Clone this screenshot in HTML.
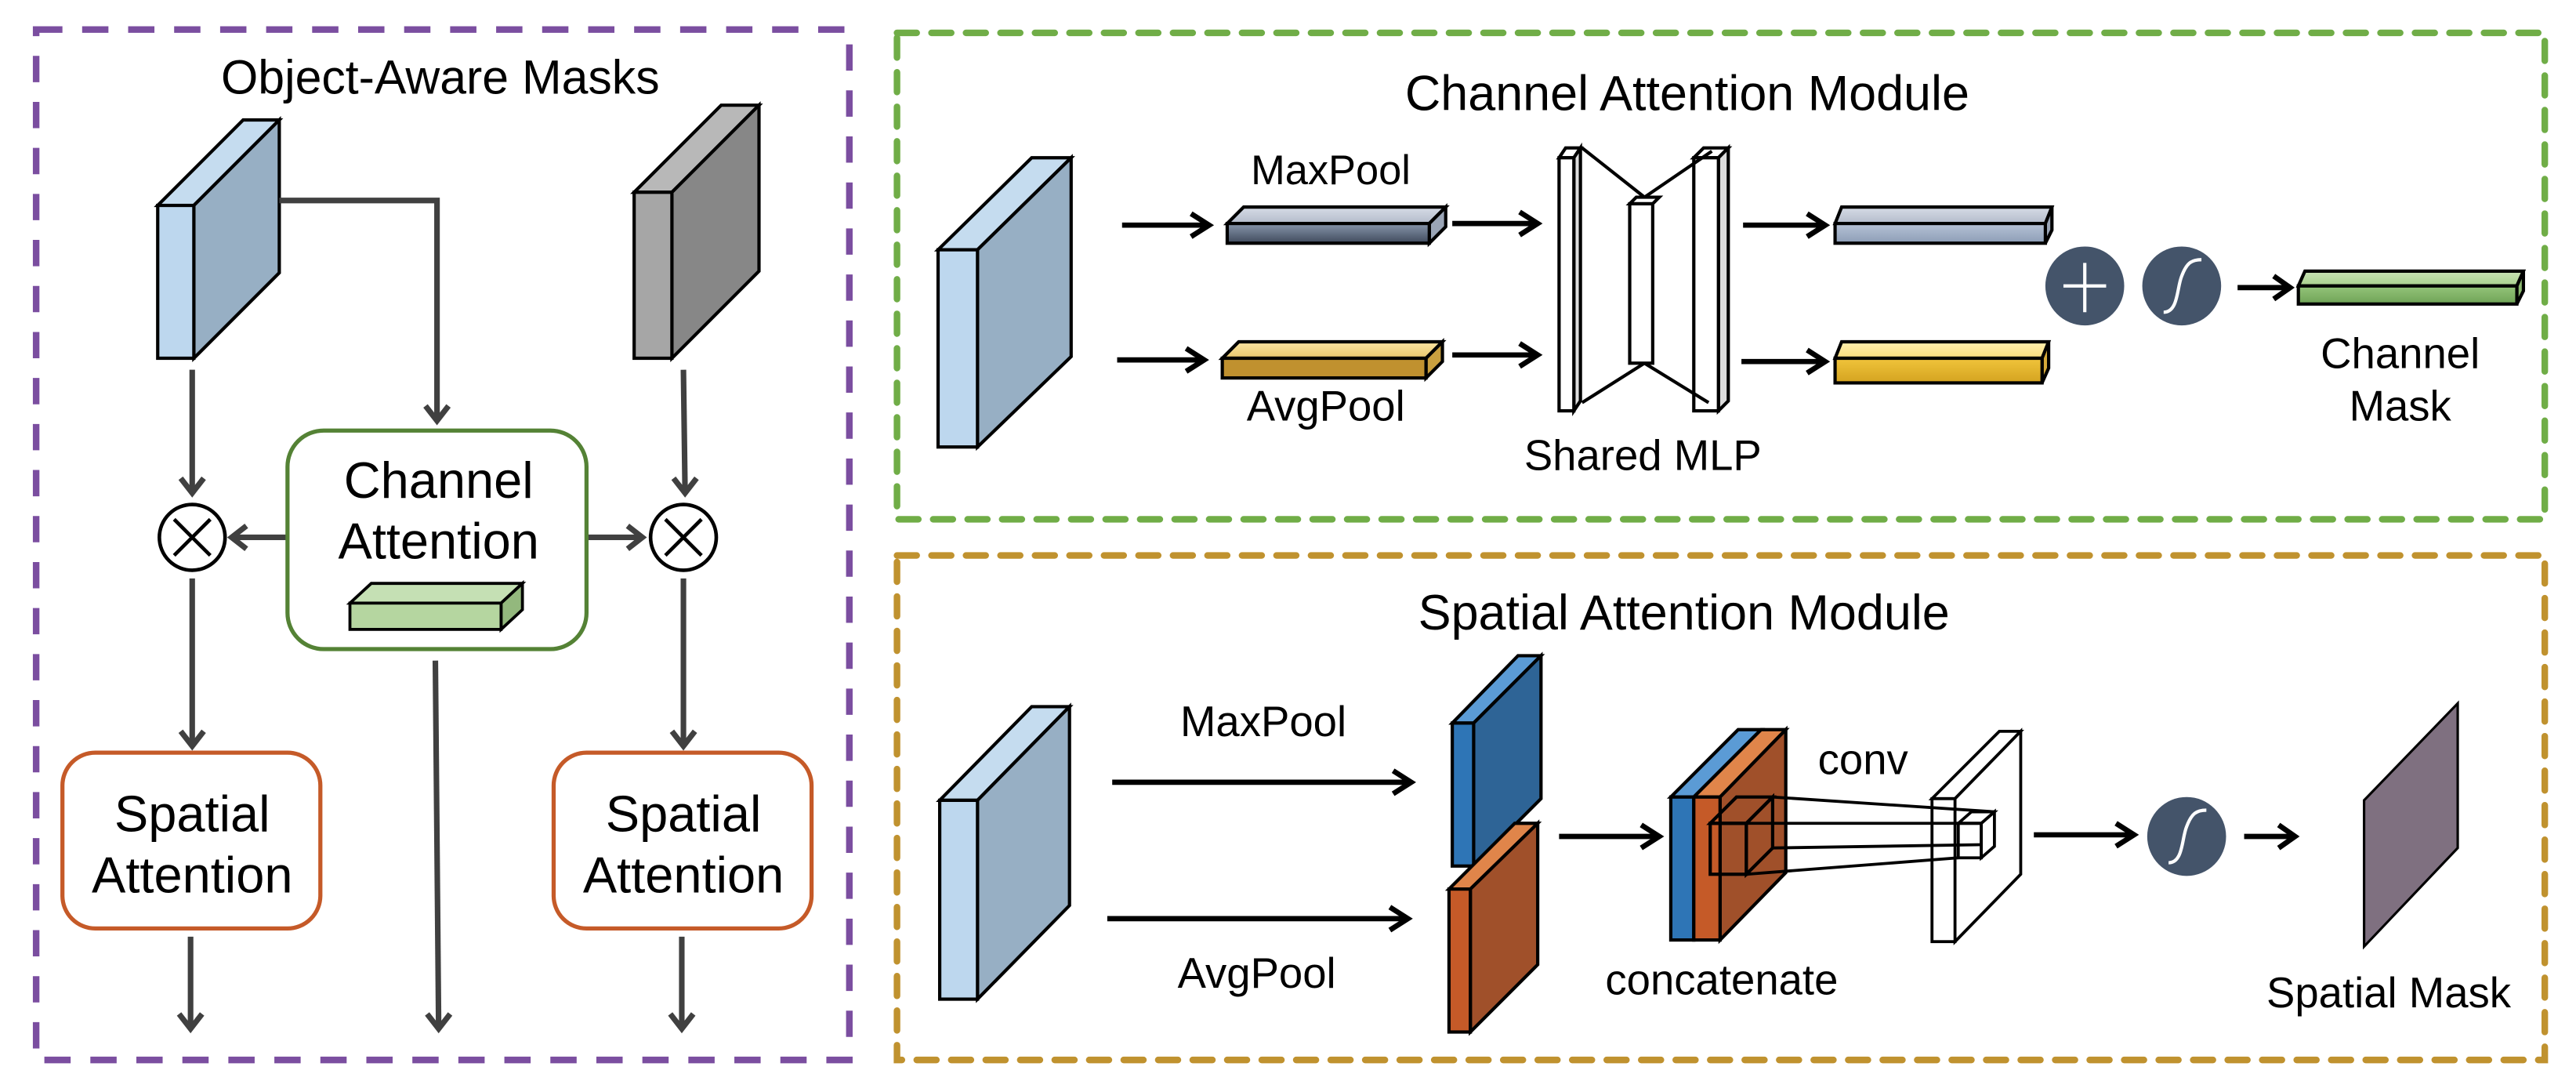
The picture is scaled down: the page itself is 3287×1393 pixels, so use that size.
<!DOCTYPE html>
<html><head><meta charset="utf-8"><style>
html,body{margin:0;padding:0;background:#fff}
svg{display:block}
text{font-family:"Liberation Sans",Arial,sans-serif;fill:#000}
</style></head><body>
<svg width="3287" height="1393" viewBox="0 0 1568 664.5" preserveAspectRatio="none" xmlns="http://www.w3.org/2000/svg">
<rect width="1568" height="665" fill="#fff"/>
<rect x="22" y="18" width="495" height="627" fill="none" stroke="#7b4ea0" stroke-width="4" stroke-dasharray="16,12"/>
<rect x="546" y="20" width="1003" height="296" fill="none" stroke="#70ad47" stroke-width="4" stroke-dasharray="12,9" stroke-linecap="round"/>
<rect x="546" y="338" width="1003" height="307" fill="none" stroke="#c0922f" stroke-width="4" stroke-dasharray="12,9" stroke-linecap="round"/>

<!-- LEFT PANEL -->
<text x="268" y="57" font-size="29" text-anchor="middle">Object-Aware Masks</text>
<g stroke="#000" stroke-width="2" stroke-linejoin="miter">
<polygon points="96,125 148,73 170,73 118,125" fill="#c5dcef"/>
<polygon points="118,125 170,73 170,166 118,218" fill="#97afc4"/>
<rect x="96" y="125" width="22" height="93" fill="#bdd7ee"/>
<polygon points="386,117 439,64 462,64 409,117" fill="#b8b8b8"/>
<polygon points="409,117 462,64 462,165 409,218" fill="#878787"/>
<rect x="386" y="117" width="23" height="101" fill="#a6a6a6"/>
</g>
<g stroke="#404040" stroke-width="3.4" fill="none">
<polyline points="170,122 266,122 266,256"/>
<polyline points="259,247 266,256 273,247"/>
<line x1="117" y1="225" x2="117" y2="300"/><polyline points="110,291 117,300 124,291"/>
<line x1="416" y1="225" x2="417" y2="300"/><polyline points="410,291 417,300 424,291"/>
<line x1="175" y1="327" x2="141" y2="327"/><polyline points="150,320 141,327 150,334"/>
<line x1="357" y1="327" x2="391" y2="327"/><polyline points="382,320 391,327 382,334"/>
<line x1="117" y1="352" x2="117" y2="454"/><polyline points="110,445 117,454 124,445"/>
<line x1="416" y1="352" x2="416" y2="454"/><polyline points="409,445 416,454 423,445"/>
<line x1="116" y1="570" x2="116" y2="626"/><polyline points="109,617 116,626 123,617"/>
<line x1="415" y1="570" x2="415" y2="626"/><polyline points="408,617 415,626 422,617"/>
<line x1="265" y1="402" x2="267" y2="626"/><polyline points="260,617 267,626 274,617"/>
</g>
<g stroke="#000" stroke-width="2.2" fill="#fff">
<circle cx="117" cy="327" r="20"/><circle cx="416" cy="327" r="20"/>
</g>
<g stroke="#000" stroke-width="2.2">
<line x1="106" y1="316" x2="128" y2="338"/><line x1="128" y1="316" x2="106" y2="338"/>
<line x1="405" y1="316" x2="427" y2="338"/><line x1="427" y1="316" x2="405" y2="338"/>
</g>
<rect x="175" y="262" width="182" height="133" rx="22" fill="#fff" stroke="#548235" stroke-width="2.5"/>
<text x="267" y="303" font-size="31" text-anchor="middle">Channel</text>
<text x="267" y="340" font-size="31" text-anchor="middle">Attention</text>
<g stroke="#000" stroke-width="1.8">
<polygon points="213,367 226,355 318,355 305,367" fill="#c5e0b4"/>
<polygon points="305,367 318,355 318,371 305,383" fill="#93b87d"/>
<rect x="213" y="367" width="92" height="16" fill="#b5d6a0"/>
</g>
<rect x="38" y="458" width="157" height="107" rx="20" fill="#fff" stroke="#c55a28" stroke-width="2.5"/>
<text x="117" y="506" font-size="31" text-anchor="middle">Spatial</text>
<text x="117" y="543" font-size="31" text-anchor="middle">Attention</text>
<rect x="337" y="458" width="157" height="107" rx="20" fill="#fff" stroke="#c55a28" stroke-width="2.5"/>
<text x="416" y="506" font-size="31" text-anchor="middle">Spatial</text>
<text x="416" y="543" font-size="31" text-anchor="middle">Attention</text>

<!-- CHANNEL ATTENTION MODULE -->
<defs>
<linearGradient id="gmaxT" x1="0" y1="0" x2="0" y2="1"><stop offset="0" stop-color="#d6dce6"/><stop offset="1" stop-color="#b4bccb"/></linearGradient>
<linearGradient id="gmaxF" x1="0" y1="0" x2="0" y2="1"><stop offset="0" stop-color="#8896ac"/><stop offset="1" stop-color="#3f4a5c"/></linearGradient>
<linearGradient id="gmaxF2" x1="0" y1="0" x2="0" y2="1"><stop offset="0" stop-color="#b7c3d6"/><stop offset="1" stop-color="#8c9db6"/></linearGradient>
<linearGradient id="gavgT" x1="0" y1="0" x2="0" y2="1"><stop offset="0" stop-color="#fbe5a2"/><stop offset="1" stop-color="#e8c66c"/></linearGradient>
<linearGradient id="gavgF2" x1="0" y1="0" x2="0" y2="1"><stop offset="0" stop-color="#f0c43b"/><stop offset="1" stop-color="#d4a320"/></linearGradient>
<linearGradient id="gT2" x1="0" y1="0" x2="0" y2="1"><stop offset="0" stop-color="#fff1b0"/><stop offset="1" stop-color="#f9dc7c"/></linearGradient>
<linearGradient id="ggrT" x1="0" y1="0" x2="0" y2="1"><stop offset="0" stop-color="#c9e2b5"/><stop offset="1" stop-color="#a8d08d"/></linearGradient>
<linearGradient id="ggrF" x1="0" y1="0" x2="0" y2="1"><stop offset="0" stop-color="#94c47a"/><stop offset="1" stop-color="#6fa356"/></linearGradient>
</defs>
<text x="1027" y="67" font-size="30" text-anchor="middle">Channel Attention Module</text>
<g stroke="#000" stroke-width="2">
<polygon points="571,152 628,96 652,96 595,152" fill="#c5dcef"/>
<polygon points="595,152 652,96 652,217 595,272" fill="#97afc4"/>
<rect x="571" y="152" width="24" height="120" fill="#bdd7ee"/>
</g>
<text x="810" y="112" font-size="25" text-anchor="middle">MaxPool</text>
<text x="807" y="256" font-size="26" text-anchor="middle">AvgPool</text>
<g stroke="#000" stroke-width="3.2" fill="none">
<line x1="683" y1="137" x2="735" y2="137"/><polyline points="725,130 736,137 725,144"/>
<line x1="680" y1="219" x2="732" y2="219"/><polyline points="722,212 733,219 722,226"/>
<line x1="884" y1="136" x2="935" y2="136"/><polyline points="925,129 936,136 925,143"/>
<line x1="884" y1="216" x2="935" y2="216"/><polyline points="925,209 936,216 925,223"/>
<line x1="1061" y1="137" x2="1110" y2="137"/><polyline points="1100,130 1111,137 1100,144"/>
<line x1="1060" y1="220" x2="1110" y2="220"/><polyline points="1100,213 1111,220 1100,227"/>
<line x1="1362" y1="175" x2="1393" y2="175"/><polyline points="1384,168 1394,175 1384,182"/>
</g>
<g stroke="#000" stroke-width="2">
<polygon points="747,136 757,126 880,126 870,136" fill="url(#gmaxT)"/>
<polygon points="870,136 880,126 880,138 870,148" fill="#9aa5b6"/>
<rect x="747" y="136" width="123" height="12" fill="url(#gmaxF)"/>
<polygon points="744,218 754,208 878,208 868,218" fill="url(#gavgT)"/>
<polygon points="868,218 878,208 878,220 868,230" fill="#c9a03f"/>
<rect x="744" y="218" width="124" height="12" fill="#c0912f"/>
<!-- MLP -->
<polygon points="949,96 953,90 962,90 958,96" fill="#fff"/>
<polygon points="958,96 962,90 962,244 958,250" fill="#ddd"/>
<rect x="949" y="96" width="9" height="154" fill="#fff"/>
<polygon points="992,124 996,120 1010,120 1006,124" fill="#fff"/>
<rect x="992" y="124" width="14" height="97" fill="#fff"/>
<polygon points="1031,96 1037,90 1052,90 1046,96" fill="#fff"/>
<polygon points="1046,96 1052,90 1052,244 1046,250" fill="#ddd"/>
<rect x="1031" y="96" width="15" height="154" fill="#fff"/>
<line x1="963" y1="90" x2="1001" y2="120"/><line x1="1042" y1="92" x2="1001" y2="120"/>
<line x1="963" y1="245" x2="1001" y2="221"/><line x1="1040" y1="245" x2="1001" y2="221"/>
<polygon points="1117,136 1121,126 1249,126 1245,136" fill="url(#gmaxT)"/>
<polygon points="1245,136 1249,126 1249,140 1245,148" fill="#9aa5b6"/>
<rect x="1117" y="136" width="128" height="12" fill="url(#gmaxF2)"/>
<polygon points="1117,218 1121,208 1247,208 1243,218" fill="url(#gT2)"/>
<polygon points="1243,218 1247,208 1247,224 1243,233" fill="#d5a93a"/>
<rect x="1117" y="218" width="126" height="15" fill="url(#gavgF2)"/>
<polygon points="1399,174 1403,165 1536,165 1532,174" fill="url(#ggrT)"/>
<polygon points="1532,174 1536,165 1536,177 1532,185" fill="#8dbb72"/>
<rect x="1399" y="174" width="133" height="11" fill="url(#ggrF)"/>
</g>
<circle cx="1269" cy="174" r="24" fill="#44546a"/>
<line x1="1269" y1="160" x2="1269" y2="190" stroke="#fff" stroke-width="2"/>
<line x1="1256" y1="174" x2="1282" y2="174" stroke="#fff" stroke-width="2"/>
<circle cx="1328" cy="174" r="24" fill="#44546a"/>
<path d="M1317,190 C1326,190 1325,175 1328,168 C1331,160 1334,158 1340,158" stroke="#fff" stroke-width="2" fill="none"/>
<text x="1461" y="224" font-size="26" text-anchor="middle">Channel</text>
<text x="1461" y="256" font-size="26" text-anchor="middle">Mask</text>
<text x="1000" y="286" font-size="26" text-anchor="middle">Shared MLP</text>

<!-- SPATIAL ATTENTION MODULE -->
<text x="1025" y="383" font-size="30" text-anchor="middle">Spatial Attention Module</text>
<g stroke="#000" stroke-width="2">
<polygon points="572,487 628,430 651,430 595,487" fill="#c5dcef"/>
<polygon points="595,487 651,430 651,551 595,608" fill="#97afc4"/>
<rect x="572" y="487" width="23" height="121" fill="#bdd7ee"/>
</g>
<text x="769" y="448" font-size="26" text-anchor="middle">MaxPool</text>
<text x="765" y="601" font-size="26" text-anchor="middle">AvgPool</text>
<g stroke="#000" stroke-width="3.2" fill="none">
<line x1="677" y1="476" x2="858" y2="476"/><polyline points="848,469 859,476 848,483"/>
<line x1="674" y1="559" x2="856" y2="559"/><polyline points="846,552 857,559 846,566"/>
<line x1="949" y1="509" x2="1009" y2="509"/><polyline points="999,502 1010,509 999,516"/>
<line x1="1238" y1="508" x2="1298" y2="508"/><polyline points="1288,501 1299,508 1288,515"/>
<line x1="1366" y1="509" x2="1396" y2="509"/><polyline points="1387,502 1397,509 1387,516"/>
</g>
<g stroke="#000" stroke-width="2">
<polygon points="884,440 924,399 938,399 897,440" fill="#5b9bd5"/>
<polygon points="897,440 938,399 938,486 897,527" fill="#2e6496"/>
<rect x="884" y="440" width="13" height="87" fill="#2e75b6"/>
<polygon points="882,541 922,501 936,501 895,541" fill="#e0854a"/>
<polygon points="895,541 936,501 936,587 895,628" fill="#a0502a"/>
<rect x="882" y="541" width="13" height="87" fill="#c55a28"/>
<polygon points="1017,485 1058,444 1072,444 1031,485" fill="#5b9bd5"/>
<polygon points="1031,485 1072,444 1087,444 1047,485" fill="#e0854a"/>
<polygon points="1047,485 1087,444 1087,531 1047,572" fill="#a0502a"/>
<rect x="1017" y="485" width="14" height="87" fill="#2e75b6"/>
<rect x="1031" y="485" width="16" height="87" fill="#c55a28"/>
</g>
<g stroke="#000" stroke-width="2" fill="none">
<polygon points="1041,501 1057,485 1079,485 1063,501"/>
<polygon points="1063,501 1079,485 1079,516 1063,532"/>
<rect x="1041" y="501" width="22" height="31"/>
</g>
<text x="1134" y="471" font-size="26" text-anchor="middle">conv</text>
<g stroke="#000" stroke-width="1.8" fill="#fff">
<polygon points="1176,486 1217,445 1230,445 1190,486"/>
<polygon points="1190,486 1230,445 1230,532 1190,573"/>
<rect x="1176" y="486" width="14" height="87"/>
</g>
<g stroke="#000" stroke-width="1.8" fill="none">
<polygon points="1192,501 1200,494 1214,494 1206,501"/>
<polygon points="1206,501 1214,494 1214,515 1206,522"/>
<rect x="1192" y="501" width="14" height="21"/>
<line x1="1079" y1="485" x2="1214" y2="494"/>
<line x1="1063" y1="501" x2="1206" y2="501"/>
<line x1="1079" y1="516" x2="1206" y2="514"/>
<line x1="1063" y1="532" x2="1192" y2="522"/>
</g>
<circle cx="1331" cy="509" r="24" fill="#44546a"/>
<path d="M1320,525 C1329,525 1328,510 1331,503 C1334,495 1337,493 1343,493" stroke="#fff" stroke-width="2" fill="none"/>
<polygon points="1439,487 1496,428 1496,516 1439,576" fill="#7f7080" stroke="#000" stroke-width="1.5"/>
<text x="1048" y="605" font-size="26" text-anchor="middle">concatenate</text>
<text x="1454" y="613" font-size="26" text-anchor="middle">Spatial Mask</text>
</svg>
</body></html>
